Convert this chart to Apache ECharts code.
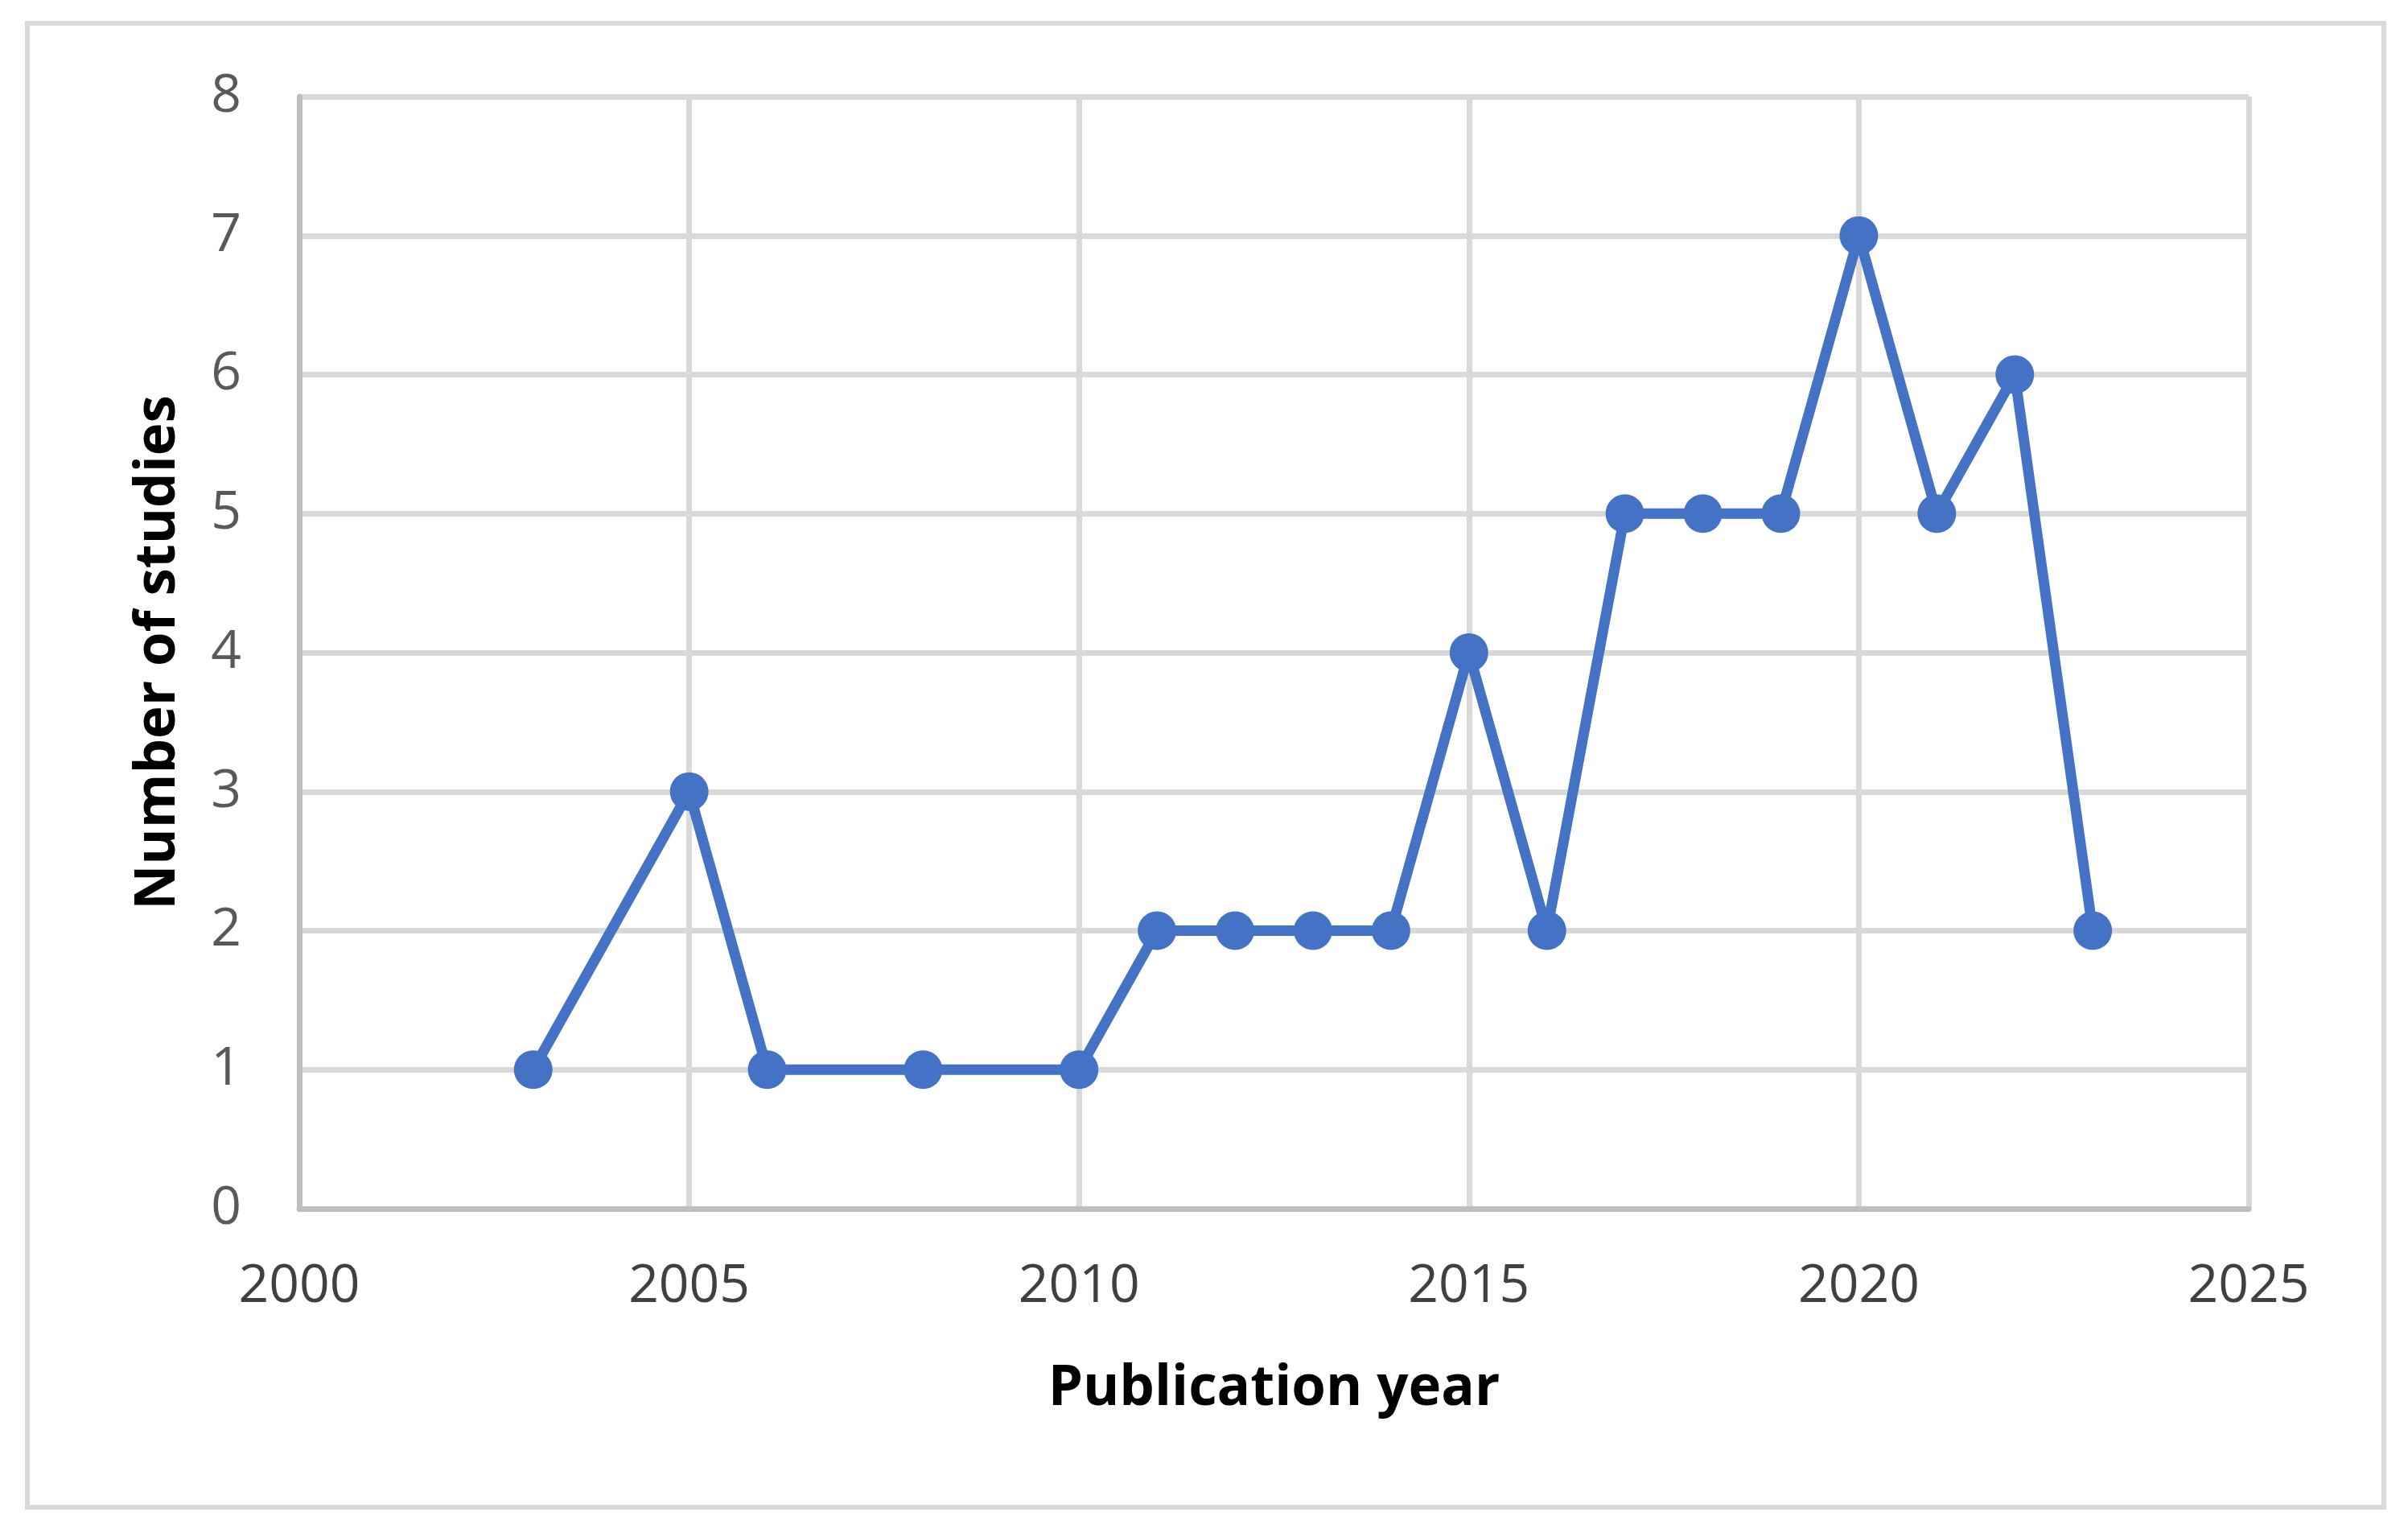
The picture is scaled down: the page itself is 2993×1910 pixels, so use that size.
<!DOCTYPE html>
<html>
<head>
<meta charset="utf-8">
<script src="https://cdn.jsdelivr.net/npm/echarts@6/dist/echarts.min.js"></script>
<style>
html,body{margin:0;padding:0;background:#fff;}
#chart{width:2993px;height:1910px;}
</style>
</head>
<body>
<div id="chart"></div>
<script>
const years = [2003, 2005, 2006, 2008, 2010, 2011, 2012, 2013, 2014, 2015, 2016, 2017, 2018, 2019, 2020, 2021, 2022, 2023];
const studies = [1, 3, 1, 1, 1, 2, 2, 2, 2, 4, 2, 5, 5, 5, 7, 5, 6, 2];
const xTitle = 'Publication year';
const yTitle = 'Number of studies';

const chart = echarts.init(document.getElementById('chart'));
const font = '"Open Sans", sans-serif';
chart.setOption({
  animation: false,
  backgroundColor: '#fff',
  graphic: [{
    type: 'rect',
    shape: { x: 34, y: 29, width: 2929, height: 1844 },
    style: { fill: 'none', stroke: '#d9d9d9', lineWidth: 6 },
    z: -1
  }],
  grid: { left: 372, right: 198, top: 120, bottom: 408 },
  xAxis: {
    type: 'value', min: 2000, max: 2025, interval: 5,
    name: xTitle, nameLocation: 'middle', nameGap: 190,
    nameTextStyle: { fontFamily: font, fontWeight: 'bold', fontSize: 69, color: '#000' },
    axisLine: { show: true, lineStyle: { color: '#bfbfbf', width: 7 } },
    axisTick: { show: false },
    axisLabel: { fontFamily: font, fontSize: 66, color: '#404040', margin: 64, formatter: v => String(v) },
    splitLine: { show: true, lineStyle: { color: '#d9d9d9', width: 7 } }
  },
  yAxis: {
    type: 'value', min: 0, max: 8, interval: 1,
    name: yTitle, nameLocation: 'middle', nameGap: 140, nameRotate: 90,
    nameTextStyle: { fontFamily: font, fontWeight: 'bold', fontSize: 69, color: '#000' },
    axisLine: { show: true, lineStyle: { color: '#bfbfbf', width: 7 } },
    axisTick: { show: false },
    axisLabel: { fontFamily: font, fontSize: 66, color: '#595959', margin: 72 },
    splitLine: { show: true, lineStyle: { color: '#d9d9d9', width: 7 } }
  },
  series: [{
    type: 'line',
    data: years.map((y, i) => [y, studies[i]]),
    symbol: 'circle', symbolSize: 48,
    lineStyle: { color: '#4472C4', width: 13 },
    itemStyle: { color: '#4472C4' }
  }]
});
</script>
</body>
</html>
